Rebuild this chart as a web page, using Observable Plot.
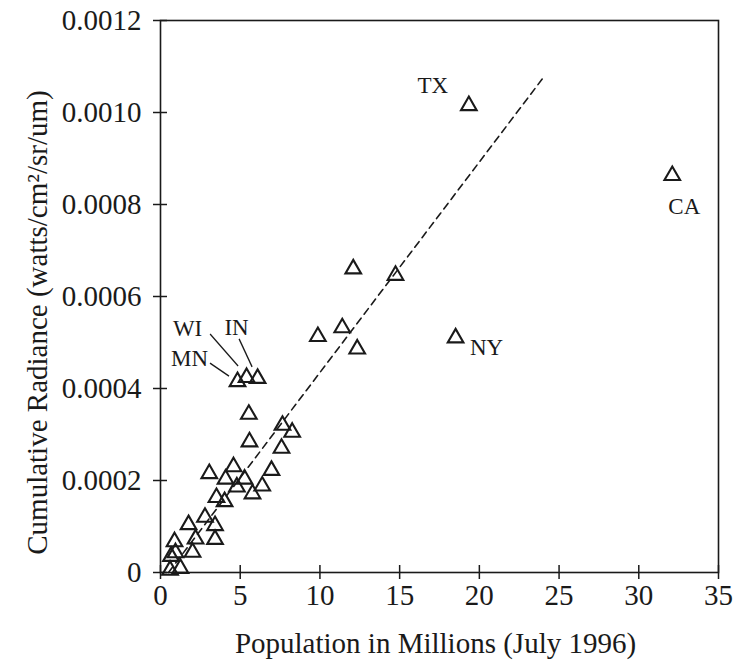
<!DOCTYPE html>
<html><head><meta charset="utf-8">
<script src="https://cdn.jsdelivr.net/npm/d3@7"></script>
<script src="https://cdn.jsdelivr.net/npm/@observablehq/plot@0.6"></script>
<style>body{margin:0;background:#fff;} svg{display:block;}</style>
</head><body><div id="chart"></div>
<script>
// Population in millions (July 1996)
const population = [19.34, 32.10, 18.51, 12.09, 14.74, 9.87, 11.40, 12.34,
  4.83, 5.40, 6.09, 5.54, 5.58, 7.65, 8.26, 7.59,
  3.06, 4.58, 4.08, 5.27, 4.79, 6.96, 6.38, 5.77, 3.51, 4.02,
  2.79, 1.76, 3.42, 3.42, 2.20, 0.88, 2.01, 0.66, 1.25, 0.60, 0.94];
// Cumulative radiance (watts/cm2/sr/um)
const radiance = [0.001015, 0.000863, 0.000510, 0.000660, 0.000646, 0.000513, 0.000532, 0.000486,
  0.000415, 0.000424, 0.000422, 0.000344, 0.000284, 0.000320, 0.000305, 0.000270,
  0.000215, 0.000230, 0.000203, 0.000203, 0.000186, 0.000222, 0.000188, 0.000171, 0.000163, 0.000154,
  0.000120, 0.000104, 0.000102, 0.000072, 0.000073, 0.000067, 0.000044, 0.000035, 0.000009, 0.000005, 0.000043];
const stateLabels = ["TX", "CA", "NY", "", "", "", "", "",
  "MN", "WI", "IN", "", "", "", "", "",
  "", "", "", "", "", "", "", "", "", "",
  "", "", "", "", "", "", "", "", "", "", ""];
// Fitted trend line end points
const fitPopulation = [0.5, 24.1];
const fitRadiance = [0, 0.00108];
const xTicks = [0, 5, 10, 15, 20, 25, 30, 35];
const xTickLabels = ["0", "5", "10", "15", "20", "25", "30", "35"];
const yTicks = [0, 0.0002, 0.0004, 0.0006, 0.0008, 0.0010, 0.0012];
const yTickLabels = ["0", "0.0002", "0.0004", "0.0006", "0.0008", "0.0010", "0.0012"];
const xTitle = "Population in Millions (July 1996)";
const yTitle = "Cumulative Radiance (watts/cm\u00B2/sr/um)";

const points = population.map((p, i) => ({pop: p, rad: radiance[i], state: stateLabels[i]}));
const fit = fitPopulation.map((p, i) => ({pop: p, rad: fitRadiance[i]}));

// label placement (pixel offsets from the point)
const labelStyle = {
  TX: {dx: -36, dy: -20}, CA: {dx: 12, dy: 31}, NY: {dx: 31, dy: 10},
  MN: {dx: -48, dy: -23}, WI: {dx: -59, dy: -49}, IN: {dx: -21, dy: -51}
};
const leaders = {MN: [-27, -18, -8, -5], WI: [-36, -43, -8, -11], IN: [-18, -39, -5, -11]};

const serif = "'Liberation Serif', 'Times New Roman', Times, serif";
const ink = "#1a1a1a";

const chart = Plot.plot({
  width: 740, height: 666,
  marginLeft: 160, marginRight: 22, marginTop: 20, marginBottom: 94,
  style: {fontFamily: serif, color: ink, background: "white", overflow: "visible"},
  x: {domain: [0, 35]},
  y: {domain: [0, 0.0012]},
  marks: [
    Plot.frame({stroke: ink, strokeWidth: 1.6}),
    Plot.axisX(xTicks, {tickSize: 14, dy: -7, tickPadding: 5, label: null, fontSize: 29, strokeWidth: 1.5,
      tickFormat: d => xTickLabels[xTicks.indexOf(d)]}),
    Plot.axisY(yTicks, {tickSize: 14, dx: 7, tickPadding: 12, label: null, fontSize: 29, strokeWidth: 1.5,
      tickFormat: d => yTickLabels[yTicks.indexOf(d)]}),
    Plot.line(fit, {x: "pop", y: "rad", stroke: ink, strokeWidth: 1.6, strokeDasharray: "7,5"}),
    Plot.dot(points, {x: "pop", y: "rad", symbol: "triangle", r: 5.8, stroke: ink, strokeWidth: 2.1, fill: "none"}),
    ...Object.keys(labelStyle).map(s => Plot.text(points.filter(d => d.state === s), {
      x: "pop", y: "rad", text: "state", dx: labelStyle[s].dx, dy: labelStyle[s].dy,
      fontSize: 23, fill: ink})),
    Plot.text([xTitle], {frameAnchor: "bottom", dx: -4, dy: 80, fontSize: 29, fill: ink}),
    Plot.text([yTitle], {frameAnchor: "left", textAnchor: "middle", lineAnchor: "middle", rotate: -90, dx: -123, dy: 26, fontSize: 29, fill: ink})
  ]
});

// leader lines for the Midwest labels, positioned through Plot's scales
const sx = chart.scale("x"), sy = chart.scale("y");
const svg = d3.select(chart);
const g = svg.append("g").attr("stroke", ink).attr("stroke-width", 1.3);
points.filter(d => leaders[d.state]).forEach(d => {
  const px = sx.apply(d.pop), py = sy.apply(d.rad), o = leaders[d.state];
  g.append("line").attr("x1", px + o[0]).attr("y1", py + o[1]).attr("x2", px + o[2]).attr("y2", py + o[3]);
});

document.getElementById("chart").append(chart);
</script>
</body></html>
